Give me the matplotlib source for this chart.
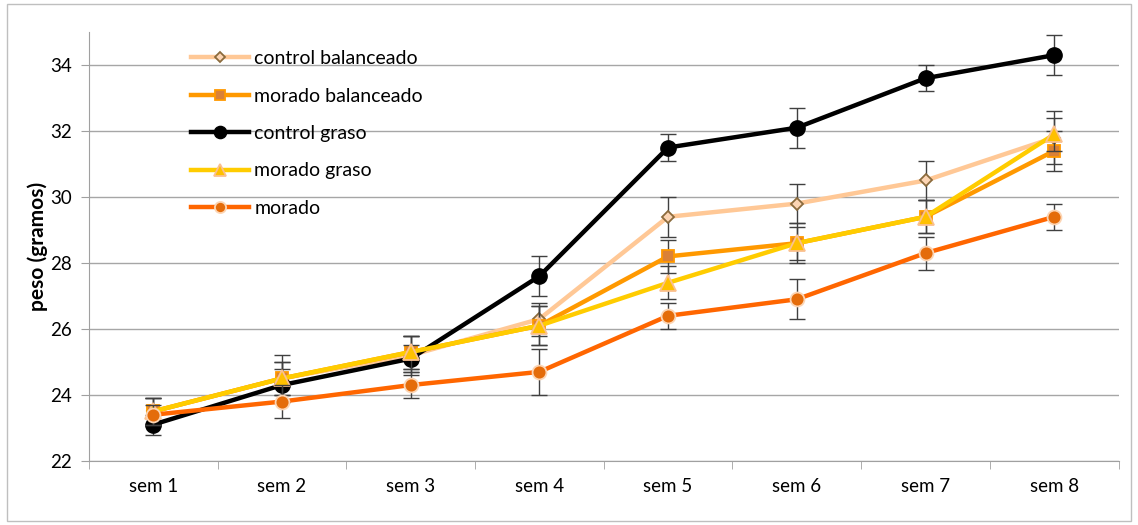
import matplotlib
matplotlib.use("Agg")
import matplotlib.pyplot as plt
from matplotlib.patches import Rectangle
import numpy as np

plt.rcParams['font.family'] = ['Lato', 'DejaVu Sans']

weeks = ["sem 1", "sem 2", "sem 3", "sem 4", "sem 5", "sem 6", "sem 7", "sem 8"]

control_balanceado = [23.5, 24.5, 25.2, 26.3, 29.4, 29.8, 30.5, 31.8]
control_balanceado_err = [0.4, 0.7, 0.6, 0.5, 0.6, 0.6, 0.6, 0.8]
morado_balanceado = [23.5, 24.5, 25.3, 26.1, 28.2, 28.6, 29.4, 31.4]
morado_balanceado_err = [0.4, 0.5, 0.5, 0.6, 0.5, 0.5, 0.5, 0.6]
control_graso = [23.1, 24.3, 25.1, 27.6, 31.5, 32.1, 33.6, 34.3]
control_graso_err = [0.3, 0.5, 0.4, 0.6, 0.4, 0.6, 0.4, 0.6]
morado_graso = [23.5, 24.5, 25.3, 26.1, 27.4, 28.6, 29.4, 31.9]
morado_graso_err = [0.4, 0.5, 0.5, 0.6, 0.5, 0.6, 0.5, 0.5]
morado = [23.4, 23.8, 24.3, 24.7, 26.4, 26.9, 28.3, 29.4]
morado_err = [0.3, 0.5, 0.4, 0.7, 0.4, 0.6, 0.5, 0.4]

series = [
    ("control balanceado", control_balanceado, control_balanceado_err,
     dict(color="#FFC896", marker="D", markersize=6.5, markerfacecolor="#FCD5B4",
          markeredgecolor="#8B6B3D", markeredgewidth=1.3)),
    ("morado balanceado", morado_balanceado, morado_balanceado_err,
     dict(color="#FF9900", marker="s", markersize=9, markerfacecolor="#DA8137",
          markeredgecolor="#FF9900", markeredgewidth=1.3)),
    ("control graso", control_graso, control_graso_err,
     dict(color="#000000", marker="o", markersize=11, markerfacecolor="#000000",
          markeredgecolor="#000000", markeredgewidth=1.0)),
    ("morado graso", morado_graso, morado_graso_err,
     dict(color="#FFCC00", marker="^", markersize=11, markerfacecolor="#FFC000",
          markeredgecolor="#FAC090", markeredgewidth=1.3)),
    ("morado", morado, morado_err,
     dict(color="#FF6600", marker="o", markersize=10, markerfacecolor="#E46C0A",
          markeredgecolor="#FCD5B4", markeredgewidth=1.3)),
]

fig = plt.figure(figsize=(11.38, 5.25), dpi=100)
ax = fig.add_axes([0.078, 0.122, 0.905, 0.817])

x = np.arange(len(weeks))
for i, (name, vals, err, st) in enumerate(series):
    ax.errorbar(x, vals, yerr=err, fmt="none", ecolor="#404040", elinewidth=1.0,
                capsize=6, capthick=1.0, zorder=3 + i * 2)
    ax.plot(x, vals, linewidth=3.2, label=name, zorder=4 + i * 2, **st)

ax.set_xlim(-0.5, len(weeks) - 0.5)
ax.set_ylim(22, 35)
ax.set_yticks(np.arange(22, 35, 2))
ax.set_xticks(x)
ax.set_xticklabels(weeks)
ax.set_xticks(np.arange(-0.5, len(weeks), 1), minor=True)
ax.tick_params(axis="x", which="major", length=0, pad=12, labelsize=13.5)
ax.tick_params(axis="x", which="minor", length=6, color="#A0A0A0", direction="out")
ax.tick_params(axis="y", length=6, color="#A0A0A0", labelsize=13.5, pad=6)

ax.grid(axis="y", color="#A6A6A6", linewidth=1.0, zorder=0)
ax.set_axisbelow(True)
for s in ["top", "right"]:
    ax.spines[s].set_visible(False)
ax.spines["left"].set_color("#A0A0A0")
ax.spines["bottom"].set_color("#A0A0A0")

ax.set_ylabel("peso (gramos)", fontsize=15, fontweight="bold", labelpad=2)

leg = ax.legend(loc="upper left", bbox_to_anchor=(0.088, 0.985), frameon=False,
                fontsize=14, labelspacing=1.05, handlelength=3.0,
                handletextpad=0.25, borderaxespad=0.2, markerscale=0.8)
for h in leg.legend_handles:
    h.set_linewidth(3.2)

fig.patches.append(Rectangle((0.006, 0.008), 0.988, 0.985, transform=fig.transFigure,
                             fill=False, edgecolor="#BFBFBF", linewidth=1.0))

fig.savefig("out.png", dpi=100)
